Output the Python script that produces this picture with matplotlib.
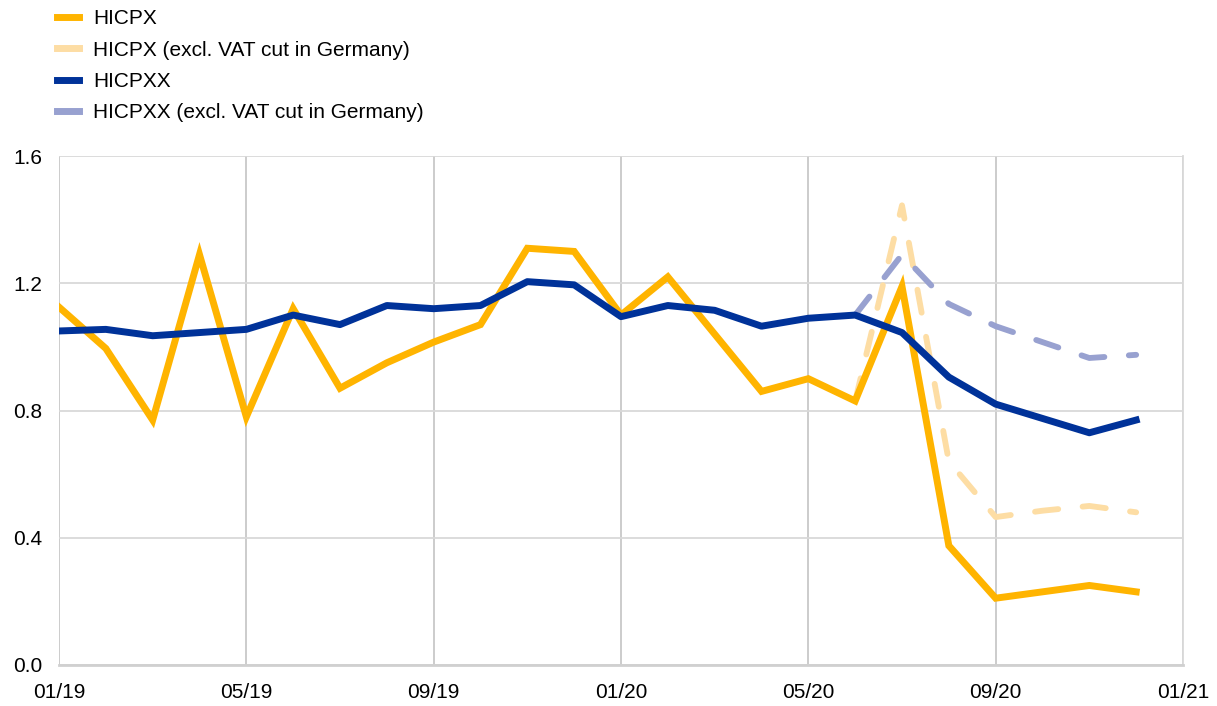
"""
Core inflation measures HICPX / HICPXX, with and without the German VAT cut.
Monthly annual rates, 01/19 - 12/20.
"""

import numpy as np
import matplotlib
matplotlib.use("Agg")
import matplotlib.pyplot as plt
from matplotlib.lines import Line2D

plt.rcParams["font.family"] = ["Liberation Sans", "DejaVu Sans"]

# Data
MONTHS = np.arange(24)  # 0 = 01/19 ... 23 = 12/20
TICK_POS = [0, 4, 8, 12, 16, 20, 24]
TICK_LABELS = ["01/19", "05/19", "09/19", "01/20", "05/20", "09/20", "01/21"]

hicpx = [1.125, 0.995, 0.77, 1.29, 0.78, 1.12, 0.87, 0.95, 1.015, 1.07,
         1.31, 1.30, 1.10, 1.22, 1.04, 0.86, 0.90, 0.83, 1.19, 0.375,
         0.21, 0.23, 0.25, 0.23]
hicpxx = [1.05, 1.055, 1.035, 1.045, 1.055, 1.10, 1.07, 1.13, 1.12, 1.13,
          1.205, 1.195, 1.095, 1.13, 1.115, 1.065, 1.09, 1.10, 1.045, 0.905,
          0.82, 0.775, 0.73, 0.77]

# Series excluding the VAT cut start in 06/20
EXCL_MONTHS = np.arange(17, 24)
hicpx_excl = [0.83, 1.445, 0.64, 0.465, 0.485, 0.50, 0.48]
hicpxx_excl = [1.10, 1.29, 1.135, 1.065, 1.015, 0.965, 0.975]

C_HICPX = "#FFB400"
C_HICPX_L = "#FDDDA4"
C_HICPXX = "#003299"
C_HICPXX_L = "#98A1D0"

fig = plt.figure(figsize=(12.17, 7.06), dpi=100)
ax = fig.add_axes([59 / 1217, 1 - 665 / 706, (1183 - 59) / 1217, (665 - 156) / 706])

dash_kw = dict(lw=4.2, linestyle=(0, (4.0, 4.2)), dash_capstyle="round",
               solid_joinstyle="round")
ax.plot(EXCL_MONTHS, hicpx_excl, color=C_HICPX_L, **dash_kw, zorder=2)
ax.plot(EXCL_MONTHS, hicpxx_excl, color=C_HICPXX_L, **dash_kw, zorder=2)
ax.plot(MONTHS, hicpx, color=C_HICPX, lw=5, solid_joinstyle="miter", zorder=3)
ax.plot(MONTHS, hicpxx, color=C_HICPXX, lw=5, solid_joinstyle="round", zorder=4)

ax.set_xlim(0, 24)
ax.set_ylim(0, 1.6)
ax.set_xticks(TICK_POS)
ax.set_xticklabels(TICK_LABELS)
ax.set_yticks([0.0, 0.4, 0.8, 1.2, 1.6])
ax.set_yticklabels([f"{v:.1f}" for v in [0.0, 0.4, 0.8, 1.2, 1.6]])
ax.tick_params(axis="both", length=0, labelsize=15, colors="black")
ax.tick_params(axis="x", pad=13)
ax.tick_params(axis="y", pad=12)

ax.grid(axis="y", color="#D9D9D9", lw=1.3)
ax.grid(axis="x", color="#C8C8C8", lw=1.3)
ax.set_axisbelow(True)
for side in ["top", "left"]:
    ax.spines[side].set_visible(False)
ax.spines["right"].set_color("#D9D9D9")
ax.spines["right"].set_linewidth(1.3)
ax.spines["bottom"].set_color("#D0D0D0")
ax.spines["bottom"].set_linewidth(2)

# Legend (solid swatches as in the original)
handles = [
    Line2D([], [], color=C_HICPX, lw=5),
    Line2D([], [], color=C_HICPX_L, lw=5),
    Line2D([], [], color=C_HICPXX, lw=5),
    Line2D([], [], color=C_HICPXX_L, lw=5),
]
labels = ["HICPX", "HICPX (excl. VAT cut in Germany)",
          "HICPXX", "HICPXX (excl. VAT cut in Germany)"]
fig.legend(handles, labels, loc="upper left",
           bbox_to_anchor=(57 / 1217, 1 - 9 / 706), frameon=False,
           fontsize=15, handlelength=1.05, handletextpad=0.7,
           labelspacing=0.6, borderpad=0, borderaxespad=0)

fig.savefig("out.png", dpi=100)
plt.close(fig)
